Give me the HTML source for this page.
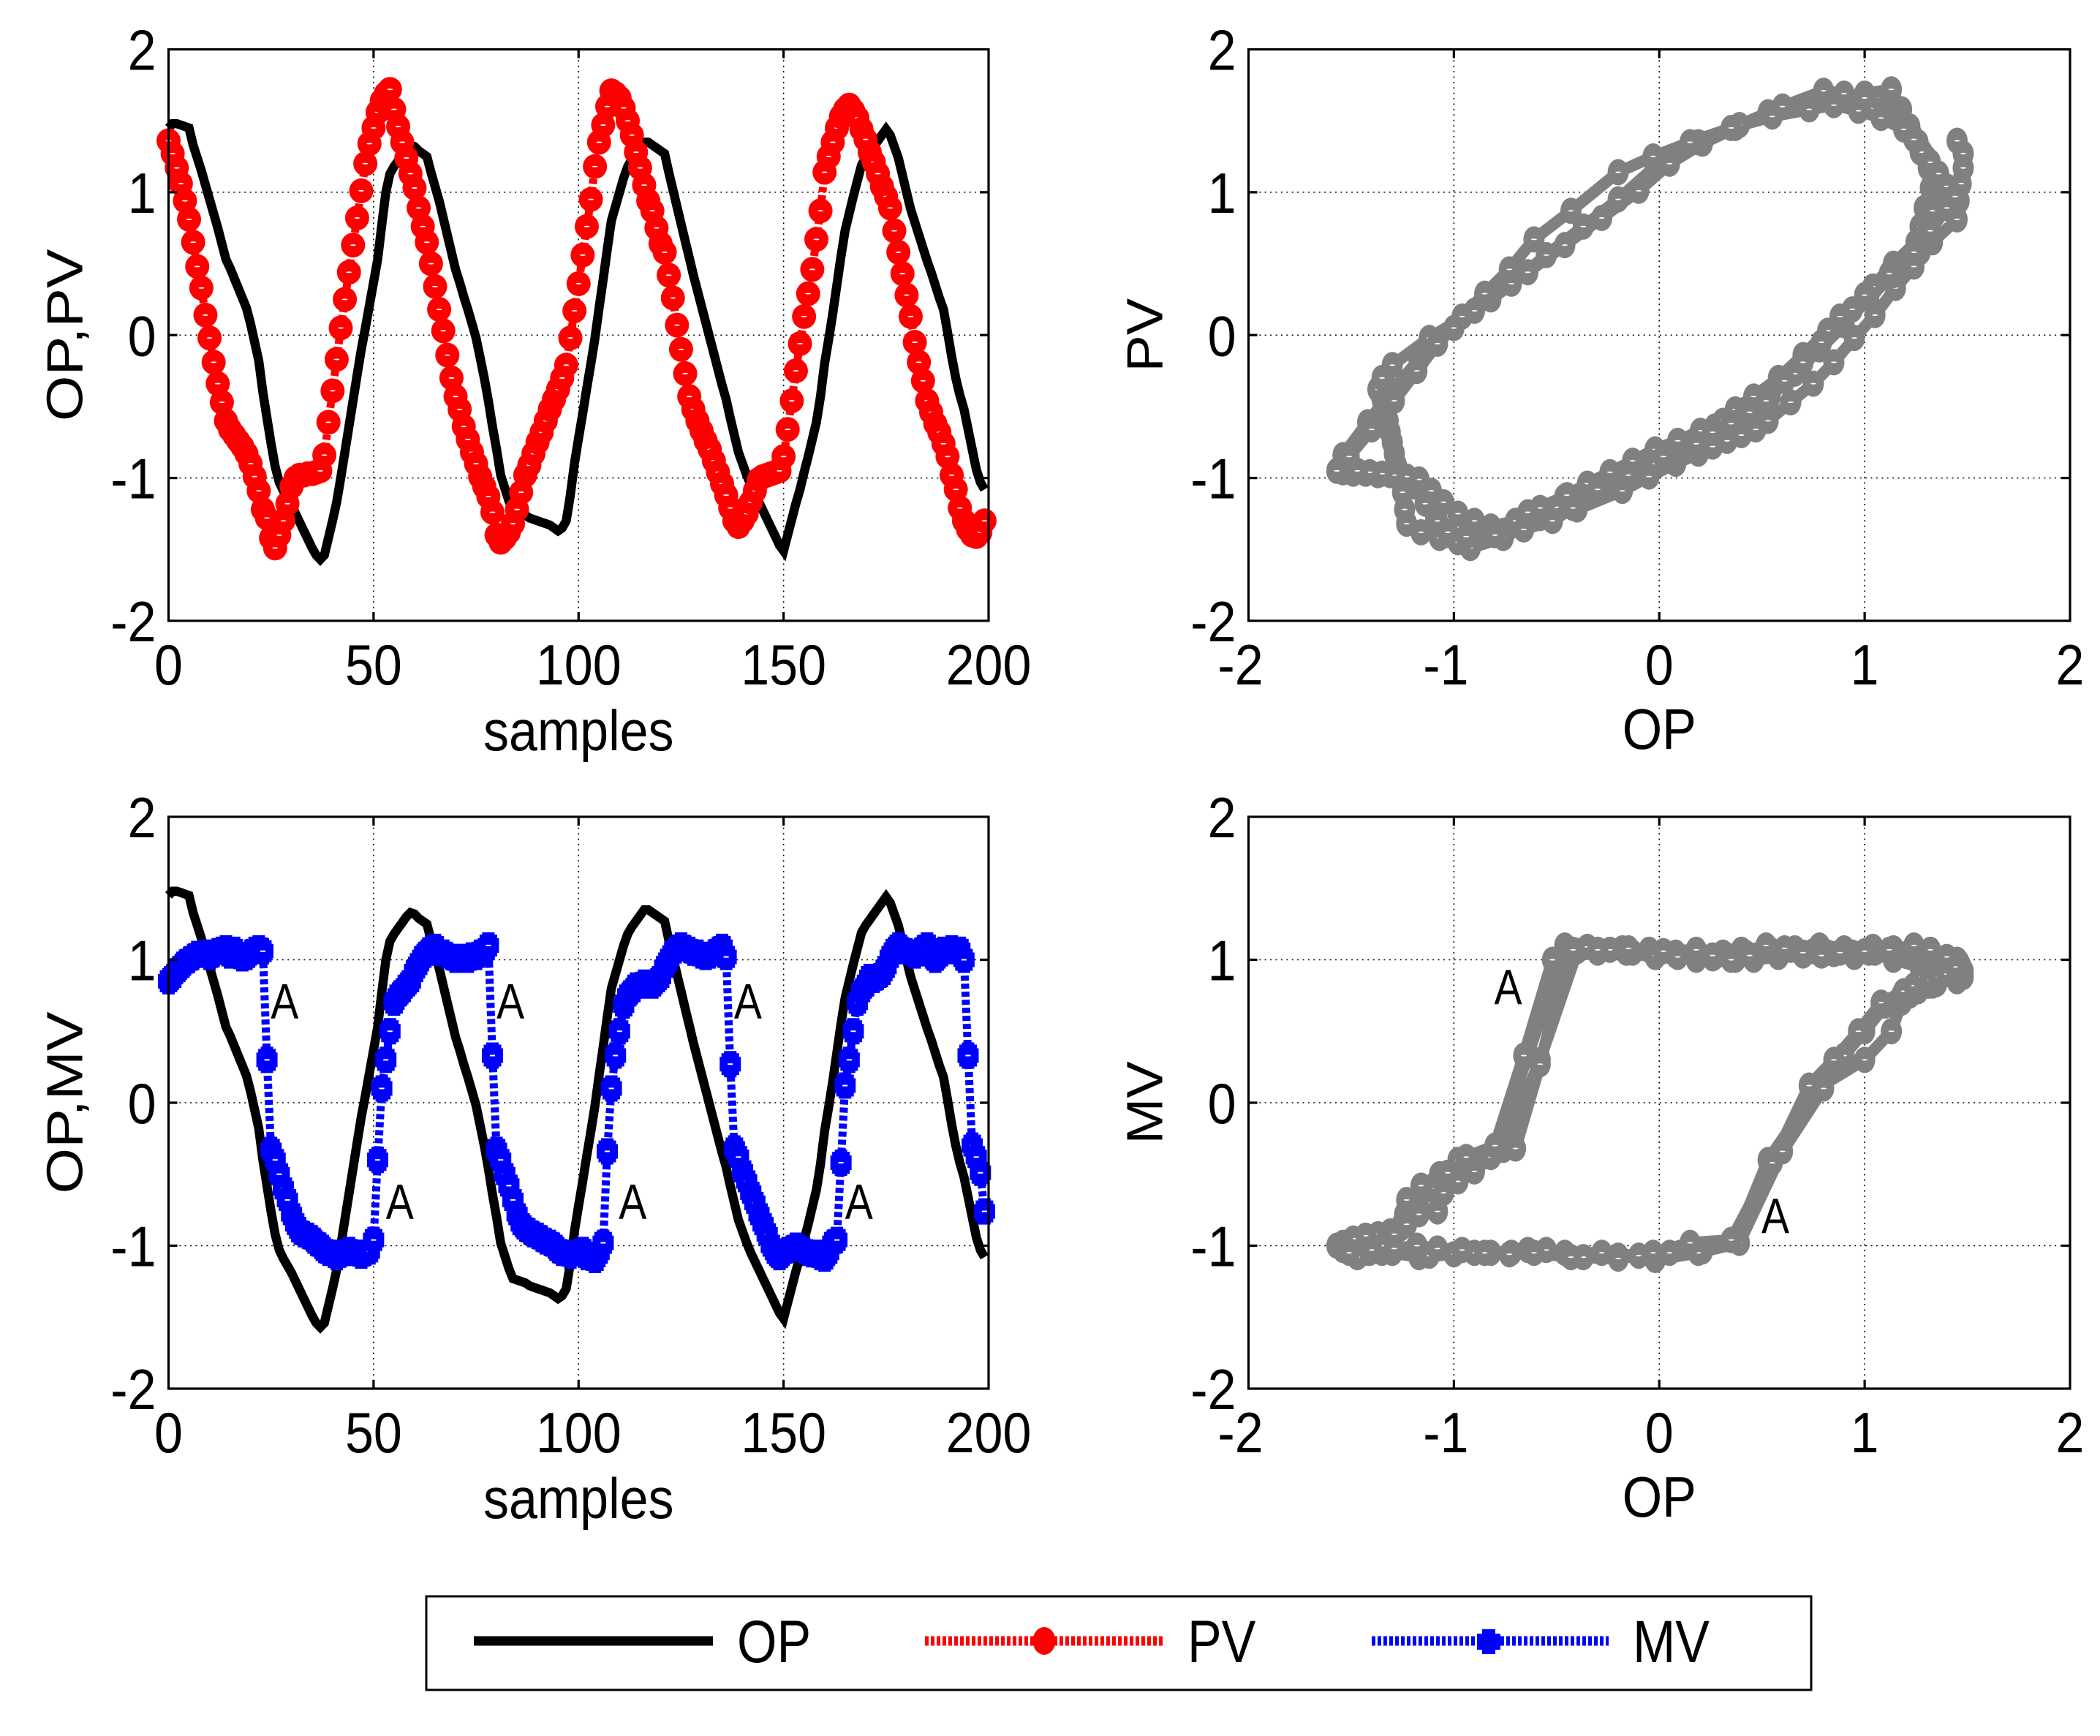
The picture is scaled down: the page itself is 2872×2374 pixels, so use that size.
<!DOCTYPE html>
<html lang="en">
<head>
<meta charset="utf-8">
<title>OP, PV and MV time series and phase plots</title>
<style>
html,body{margin:0;padding:0;background:#fff;width:2872px;height:2374px;overflow:hidden}
svg{display:block;font-family:"Liberation Sans",Arial,sans-serif}
</style>
</head>
<body>
<svg id="figure" xmlns="http://www.w3.org/2000/svg" width="2872" height="2374" viewBox="0 0 2872 2374"></svg>
<script>
const op = [1.45,1.48,1.48,1.47,1.46,1.45,1.33,1.24,1.15,1.05,.95,.85,.75,.64,.53,.47,.40,.33,.26,.19,
.08,-.05,-.18,-.40,-.58,-.76,-.92,-1.03,-1.09,-1.14,-1.19,-1.25,-1.31,-1.37,-1.43,-1.49,-1.54,-1.57,-1.54,-1.42,
-1.30,-1.17,-1.0,-.82,-.64,-.46,-.28,-.10,.05,.21,.37,.53,.77,1.0,1.13,1.18,1.22,1.26,1.30,1.33,
1.32,1.29,1.27,1.25,1.14,1.04,.94,.82,.70,.58,.46,.37,.27,.18,.08,-.02,-.16,-.30,-.46,-.64,
-.80,-.98,-1.07,-1.16,-1.23,-1.24,-1.25,-1.26,-1.28,-1.29,-1.30,-1.31,-1.32,-1.33,-1.35,-1.37,-1.35,-1.30,-1.12,-.9,
-.72,-.55,-.37,-.2,-.02,.19,.39,.60,.80,.9,1.0,1.10,1.18,1.23,1.27,1.31,1.35,1.35,1.33,1.31,
1.29,1.27,1.14,1.02,.9,.78,.66,.54,.42,.31,.2,.09,-.02,-.13,-.24,-.35,-.45,-.58,-.70,-.82,
-.90,-.98,-1.05,-1.11,-1.17,-1.23,-1.29,-1.35,-1.41,-1.47,-1.51,-1.40,-1.29,-1.18,-1.08,-.96,-.85,-.73,-.61,-.43,
-.2,-.03,.15,.35,.55,.73,.85,.97,1.08,1.19,1.24,1.28,1.32,1.36,1.40,1.44,1.40,1.32,1.24,1.12,
1.0,.88,.79,.70,.61,.52,.44,.35,.26,.18,.02,-.15,-.30,-.42,-.52,-.66,-.80,-.94,-1.03,-1.08];

const pv = [1.36,1.27,1.17,1.06,.94,.81,.65,.48,.33,.14,-.02,-.19,-.34,-.47,-.60,-.66,-.70,-.74,-.78,-.83,
-.90,-.99,-1.09,-1.22,-1.28,-1.42,-1.49,-1.40,-1.30,-1.18,-1.06,-1.00,-.98,-.98,-.97,-.97,-.96,-.95,-.84,-.61,
-.39,-.17,.05,.25,.44,.63,.82,1.01,1.20,1.34,1.45,1.56,1.64,1.69,1.72,1.58,1.46,1.35,1.24,1.13,
1.03,.89,.76,.65,.50,.34,.18,.03,-.14,-.30,-.43,-.52,-.64,-.73,-.82,-.90,-.99,-1.06,-1.13,-1.24,
-1.40,-1.45,-1.42,-1.38,-1.32,-1.22,-1.10,-.98,-.91,-.83,-.75,-.68,-.60,-.52,-.45,-.38,-.30,-.21,-.02,.17,
.36,.56,.76,.95,1.18,1.35,1.47,1.60,1.71,1.69,1.66,1.59,1.50,1.40,1.28,1.17,1.05,.94,.87,.75,
.64,.58,.42,.26,.07,-.10,-.27,-.43,-.52,-.60,-.67,-.74,-.80,-.88,-.96,-1.04,-1.12,-1.21,-1.30,-1.34,
-1.30,-1.25,-1.17,-1.09,-1.01,-.99,-.98,-.97,-.96,-.95,-.85,-.66,-.46,-.25,-.06,.13,.29,.46,.67,.87,
1.14,1.25,1.35,1.45,1.53,1.58,1.61,1.57,1.52,1.44,1.37,1.28,1.21,1.13,1.04,.97,.89,.73,.58,.43,
.28,.13,-.05,-.19,-.32,-.46,-.54,-.62,-.68,-.76,-.85,-.98,-1.08,-1.21,-1.30,-1.36,-1.40,-1.41,-1.38,-1.30];

const mv = [.85,.88,.92,.95,.98,1.0,1.02,1.04,1.04,1.05,1.02,1.04,1.06,1.07,1.08,1.03,1.07,1.03,1.01,1.02,
1.05,1.07,1.08,1.06,.30,-.33,-.40,-.50,-.60,-.68,-.78,-.85,-.90,-.92,-.93,-.95,-.98,-1.0,-1.03,-1.05,
-1.05,-1.08,-1.06,-1.05,-1.03,-1.05,-1.05,-1.07,-1.05,-1.04,-.96,-.40,.10,.30,.50,.70,.75,.78,.82,.85,
.92,.97,1.02,1.05,1.08,1.09,1.05,1.05,1.03,1.02,1.0,1.0,1.02,1.0,1.03,1.02,1.05,1.05,1.1,.33,
-.33,-.40,-.50,-.58,-.68,-.78,-.85,-.88,-.90,-.92,-.93,-.95,-.97,-.98,-1.0,-1.03,-1.05,-1.05,-1.07,-1.05,
-1.05,-1.03,-1.08,-1.07,-1.1,-1.05,-.98,-.34,.10,.33,.50,.68,.75,.78,.82,.82,.84,.83,.82,.85,
.88,.95,1.0,1.05,1.08,1.1,1.08,1.07,1.05,1.05,1.03,1.02,1.03,1.05,1.07,1.09,1.02,.27,-.32,-.38,
-.48,-.55,-.63,-.70,-.78,-.85,-.92,-1.0,-1.05,-1.08,-1.05,-1.03,-1.02,-1.0,-1.02,-1.03,-1.05,-1.06,-1.05,-1.08,
-1.09,-1.05,-.98,-.96,-.42,.12,.30,.50,.70,.78,.82,.88,.86,.88,.90,.95,1.02,1.07,1.1,1.07,
1.06,1.05,1.03,1.05,1.08,1.1,1.03,1.0,1.03,1.07,1.06,1.08,1.07,1.07,1.0,.33,-.30,-.38,-.49,-.76];

const sampleTicks = [0,50,100,150,200];
const valueTicks = [-2,-1,0,1,2];
const legendLabels = ["OP","PV","MV"];
const annotationsC = [[28.3,.59],[83.4,.59],[141.3,.59],[56.4,-.81],[113.2,-.81],[168.4,-.81]];
const annotationsD = [[-.736,.69],[.565,-.91]];

const NS = "http://www.w3.org/2000/svg";
const root = document.getElementById("figure");
const COLOR_OP = "#000000", COLOR_PV = "#ff0000", COLOR_MV = "#0000ff", COLOR_PHASE = "#808080";

function mk(parent, tag, attrs) {
  const el = document.createElementNS(NS, tag);
  for (const k in attrs) el.setAttribute(k, attrs[k]);
  parent.appendChild(el);
  return el;
}
function scale(domain, range) {
  return v => range[0] + (v - domain[0]) / (domain[1] - domain[0]) * (range[1] - range[0]);
}
function pts(xs, ys, fx, fy) {
  return ys.map((y, i) => fx(xs[i]).toFixed(1) + "," + fy(y).toFixed(1)).join(" ");
}
const indices = op.map((_, i) => i);

function buildPanel(cfg) {
  const g = mk(root, "g", {});
  
  
  const fx = scale(cfg.xDomain, [cfg.left, cfg.right]);
  const fy = scale([-2, 2], [cfg.bottom, cfg.top]);

  const grid = mk(g, "g", {stroke:"#000","stroke-width":1.6,"stroke-dasharray":"2 5.4",fill:"none"});
  
  
  cfg.xTicks.slice(1, -1).forEach(t => {
    const l = mk(grid, "line", {x1:fx(t),x2:fx(t),y1:cfg.top,y2:cfg.bottom});
    
    
  });
  valueTicks.slice(1, -1).forEach(t => {
    const l = mk(grid, "line", {x1:cfg.left,x2:cfg.right,y1:fy(t),y2:fy(t)});
    
    
  });

  cfg.draw(g, fx, fy);

  const frame = mk(g, "rect", {x:cfg.left,y:cfg.top,width:cfg.right-cfg.left,height:cfg.bottom-cfg.top,fill:"none",stroke:"#000","stroke-width":3.2});
  
  

  cfg.xTicks.forEach(t => {
    if (t !== cfg.xTicks[0] && t !== cfg.xTicks[cfg.xTicks.length-1]) {
      const a = mk(g, "path", {d:`M${fx(t)} ${cfg.bottom}v-12M${fx(t)} ${cfg.top}v12`,stroke:"#000","stroke-width":3.2,fill:"none"});
      
      
    }
    const shift = t < 0 ? -11 : 0;
    const lab = mk(g, "text", {transform:`translate(${fx(t)+shift},${cfg.bottom+87}) scale(1,1.12)`,"text-anchor":"middle","font-size":70,fill:"#000"});
    
    
    lab.textContent = t;
  });
  valueTicks.forEach(t => {
    if (t !== -2 && t !== 2) {
      const a = mk(g, "path", {d:`M${cfg.left} ${fy(t)}h12M${cfg.right} ${fy(t)}h-12`,stroke:"#000","stroke-width":3.2,fill:"none"});
      
      
    }
    const lab = mk(g, "text", {transform:`translate(${cfg.left-17},${fy(t)+28}) scale(1,1.12)`,"text-anchor":"end","font-size":70,fill:"#000"});
    
    
    lab.textContent = t;
  });

  const xl = mk(g, "text", {transform:`translate(${(cfg.left+cfg.right)/2},${cfg.bottom+cfg.xLabelOffset}) scale(1,1.12)`,"text-anchor":"middle","font-size":70,fill:"#000"});
  
  
  xl.textContent = cfg.xLabel;

  const yl = mk(g, "text", {transform:`translate(${cfg.left-118},${(cfg.top+cfg.bottom)/2}) rotate(-90) scale(${cfg.yLabelStretch},1)`,"text-anchor":"middle","font-size":70,fill:"#000"});
  
  
  yl.textContent = cfg.yLabel;

  (cfg.notes || []).forEach(n => {
    const t = mk(g, "text", {transform:`translate(${fx(n[0])},${fy(n[1])}) scale(1,1.18)`,"text-anchor":"middle","font-size":57,fill:"#000"});
    
    
    t.textContent = "A";
  });
}

function drawOpLine(g, fx, fy) {
  const l = mk(g, "polyline", {points:pts(indices, op, fx, fy),fill:"none",stroke:COLOR_OP,"stroke-width":12.5,"stroke-linejoin":"miter"});
  
  
}

function circleMarkers(g, xs, ys, fx, fy, color, rx, ry, name) {
  ys.forEach((y, i) => {
    const c = mk(g, "ellipse", {cx:fx(xs[i]),cy:fy(y),rx:rx,ry:ry,fill:color});
    
    
    const h = mk(g, "ellipse", {cx:fx(xs[i]),cy:fy(y),rx:4,ry:1,fill:"#fff"});
    
    
  });
}

function octMarkers(g, xs, ys, fx, fy, color, name) {
  ys.forEach((y, i) => {
    const cx = fx(xs[i]), cy = fy(y);
    const c = mk(g, "path", {d:`M${cx-8.5} ${cy-18}h17v3h3.5v5h2.5v20h-2.5v5h-3.5v3h-17v-3h-3.5v-5h-2.5v-20h2.5v-5h3.5z`,fill:color});
    
    
    const h = mk(g, "rect", {x:cx-3.5,y:cy-1,width:7,height:2,fill:"#fff"});
    
    
  });
}

buildPanel({
  name:"op-pv-time-plot", left:230.5, right:1352, top:67.5, bottom:849,
  xDomain:[0,200], xTicks:sampleTicks, xLabel:"samples", yLabel:"OP,PV", xLabelOffset:177, yLabelStretch:1.15,
  draw(g, fx, fy) {
    drawOpLine(g, fx, fy);
    const l = mk(g, "polyline", {points:pts(indices, pv, fx, fy),fill:"none",stroke:COLOR_PV,"stroke-width":11,"stroke-dasharray":"7 4"});
    
    
    circleMarkers(g, indices, pv, fx, fy, COLOR_PV, 16.5, 17, 'pv-marker');
  }
});

buildPanel({
  name:"pv-vs-op-plot", left:1707.5, right:2831, top:67.5, bottom:849,
  xDomain:[-2,2], xTicks:valueTicks, xLabel:"OP", yLabel:"PV", xLabelOffset:175, yLabelStretch:1.08,
  draw(g, fx, fy) {
    const l = mk(g, "polyline", {points:pts(op, pv, fx, fy),fill:"none",stroke:COLOR_PHASE,"stroke-width":16});
    
    
    circleMarkers(g, op, pv, fx, fy, COLOR_PHASE, 14.5, 18, 'pv-op-marker');
  }
});

buildPanel({
  name:"op-mv-time-plot", left:230.5, right:1352, top:1117, bottom:1899,
  xDomain:[0,200], xTicks:sampleTicks, xLabel:"samples", yLabel:"OP,MV", xLabelOffset:177, yLabelStretch:1.15, notes:annotationsC,
  draw(g, fx, fy) {
    drawOpLine(g, fx, fy);
    const l = mk(g, "polyline", {points:pts(indices, mv, fx, fy),fill:"none",stroke:COLOR_MV,"stroke-width":11,"stroke-dasharray":"7 4"});
    
    
    octMarkers(g, indices, mv, fx, fy, COLOR_MV, 'mv-marker');
  }
});

buildPanel({
  name:"mv-vs-op-plot", left:1707.5, right:2831, top:1117, bottom:1899,
  xDomain:[-2,2], xTicks:valueTicks, xLabel:"OP", yLabel:"MV", xLabelOffset:175, yLabelStretch:1.08, notes:annotationsD,
  draw(g, fx, fy) {
    const l = mk(g, "polyline", {points:pts(op, mv, fx, fy),fill:"none",stroke:COLOR_PHASE,"stroke-width":16});
    
    
    circleMarkers(g, op, mv, fx, fy, COLOR_PHASE, 14.5, 18, 'mv-op-marker');
  }
});

/* Legend */
const legend = mk(root, "g", {});


const legendBox = mk(legend, "rect", {x:583,y:2183,width:1894,height:128,fill:"#fff",stroke:"#000","stroke-width":3});



const legendOpLine = mk(legend, "line", {x1:648,x2:975,y1:2244,y2:2244,stroke:COLOR_OP,"stroke-width":13});



const legendPvLine = mk(legend, "line", {x1:1265,x2:1591,y1:2244,y2:2244,stroke:COLOR_PV,"stroke-width":13,"stroke-dasharray":"5 3"});


const legendPvMarker = mk(legend, "ellipse", {cx:1428,cy:2244,rx:15.5,ry:19,fill:COLOR_PV});



const legendMvLine = mk(legend, "line", {x1:1876,x2:2200,y1:2244,y2:2244,stroke:COLOR_MV,"stroke-width":13,"stroke-dasharray":"5 3"});


const legendMvMarker = mk(legend, "path", {d:"M2027 2228h18v6h7v22h-7v6h-18v-6h-7v-22h7z",fill:COLOR_MV});



const legendTextX = [1008,1624,2233];
legendLabels.forEach((label, i) => {
  const t = mk(legend, "text", {transform:`translate(${legendTextX[i]},2273) scale(1,1.16)`,"font-size":70,fill:"#000"});
  
  
  t.textContent = label;
});
</script>
</body>
</html>
